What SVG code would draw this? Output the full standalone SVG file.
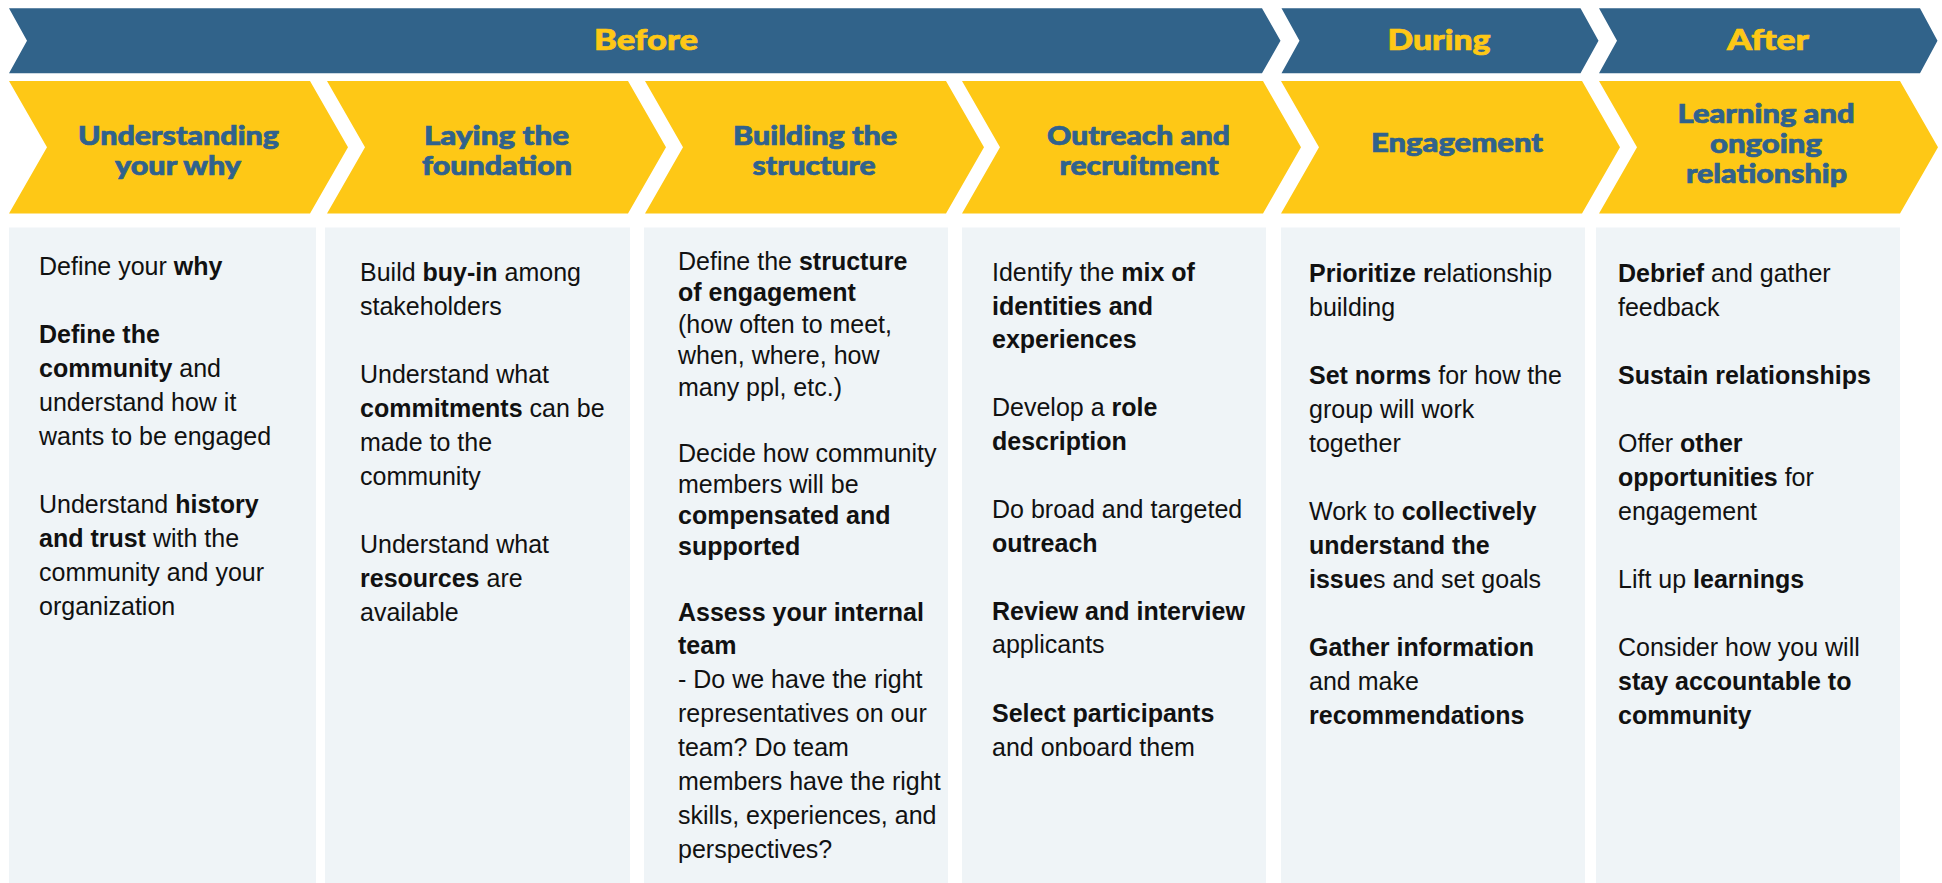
<svg xmlns="http://www.w3.org/2000/svg" width="1942" height="883" viewBox="0 0 1942 883">
<style>
.band{fill:#31638A}
.chev{fill:#FEC816}
.panel{fill:#EFF4F7}
.bt{font-family:Lato,"Open Sans",sans-serif;font-weight:900;font-size:29px;fill:#FEC816;stroke:#FEC816;stroke-width:0.7;text-anchor:middle}
.ht{font-family:Lato,"Open Sans",sans-serif;font-weight:900;font-size:26px;fill:#30628D;stroke:#30628D;stroke-width:0.7;text-anchor:middle}
.tx{font-family:"Liberation Sans",Arial,sans-serif;font-size:25px;fill:#111}
.b{font-weight:bold}
</style>
<rect width="1942" height="883" fill="#fff"/>
<g id="phase-before">
<path class="band" d="M9,8.3 H1262 L1280.5,40.8 L1262,73.3 H9 L27,40.8 Z"/>
<text class="bt" x="646" y="49.5" textLength="104" lengthAdjust="spacingAndGlyphs">Before</text>
</g>
<g id="phase-during">
<path class="band" d="M1281.5,8.3 H1580.5 L1598.5,40.8 L1580.5,73.3 H1281.5 L1299.5,40.8 Z"/>
<text class="bt" x="1439" y="49.5" textLength="103" lengthAdjust="spacingAndGlyphs">During</text>
</g>
<g id="phase-after">
<path class="band" d="M1599,8.3 H1920 L1937.5,40.8 L1920,73.3 H1599 L1617,40.8 Z"/>
<text class="bt" x="1768" y="49.5" textLength="82" lengthAdjust="spacingAndGlyphs">After</text>
</g>
<g id="step-1">
<path class="chev" d="M9,81 H310 L348,147.25 L310,213.5 H9 L47,147.25 Z"/>
<text class="ht" x="178.5" y="145" textLength="201" lengthAdjust="spacingAndGlyphs">Understanding</text>
<text class="ht" x="178" y="175" textLength="126" lengthAdjust="spacingAndGlyphs">your why</text>
<rect class="panel" x="9" y="227.5" width="307" height="656"/>
<text class="tx" x="39" y="275">Define your <tspan class="b">why</tspan></text>
<text class="tx" x="39" y="343"><tspan class="b">Define the</tspan></text>
<text class="tx" x="39" y="377"><tspan class="b">community</tspan> and</text>
<text class="tx" x="39" y="411">understand how it</text>
<text class="tx" x="39" y="445">wants to be engaged</text>
<text class="tx" x="39" y="513">Understand <tspan class="b">history</tspan></text>
<text class="tx" x="39" y="547"><tspan class="b">and trust</tspan> with the</text>
<text class="tx" x="39" y="581">community and your</text>
<text class="tx" x="39" y="615">organization</text>
</g>
<g id="step-2">
<path class="chev" d="M327,81 H628 L666,147.25 L628,213.5 H327 L365,147.25 Z"/>
<text class="ht" x="496.5" y="145" textLength="145" lengthAdjust="spacingAndGlyphs">Laying the</text>
<text class="ht" x="497" y="175" textLength="150" lengthAdjust="spacingAndGlyphs">foundation</text>
<rect class="panel" x="325" y="227.5" width="305" height="656"/>
<text class="tx" x="360" y="281">Build <tspan class="b">buy-in</tspan> among</text>
<text class="tx" x="360" y="315">stakeholders</text>
<text class="tx" x="360" y="383">Understand what</text>
<text class="tx" x="360" y="417"><tspan class="b">commitments</tspan> can be</text>
<text class="tx" x="360" y="451">made to the</text>
<text class="tx" x="360" y="485">community</text>
<text class="tx" x="360" y="553">Understand what</text>
<text class="tx" x="360" y="587"><tspan class="b">resources</tspan> are</text>
<text class="tx" x="360" y="621">available</text>
</g>
<g id="step-3">
<path class="chev" d="M645,81 H946 L984,147.25 L946,213.5 H645 L683,147.25 Z"/>
<text class="ht" x="815" y="145" textLength="164" lengthAdjust="spacingAndGlyphs">Building the</text>
<text class="ht" x="814" y="175" textLength="123" lengthAdjust="spacingAndGlyphs">structure</text>
<rect class="panel" x="644" y="227.5" width="304" height="656"/>
<text class="tx" x="678" y="269.5">Define the <tspan class="b">structure</tspan></text>
<text class="tx" x="678" y="300.7"><tspan class="b">of engagement</tspan></text>
<text class="tx" x="678" y="332.5">(how often to meet,</text>
<text class="tx" x="678" y="364.3">when, where, how</text>
<text class="tx" x="678" y="396">many ppl, etc.)</text>
<text class="tx" x="678" y="462">Decide how community</text>
<text class="tx" x="678" y="493">members will be</text>
<text class="tx" x="678" y="524"><tspan class="b">compensated and</tspan></text>
<text class="tx" x="678" y="555"><tspan class="b">supported</tspan></text>
<text class="tx" x="678" y="620.5"><tspan class="b">Assess your internal</tspan></text>
<text class="tx" x="678" y="653.5"><tspan class="b">team</tspan></text>
<text class="tx" x="678" y="688">- Do we have the right</text>
<text class="tx" x="678" y="721.5">representatives on our</text>
<text class="tx" x="678" y="756">team? Do team</text>
<text class="tx" x="678" y="790">members have the right</text>
<text class="tx" x="678" y="824">skills, experiences, and</text>
<text class="tx" x="678" y="857.5">perspectives?</text>
</g>
<g id="step-4">
<path class="chev" d="M962,81 H1263 L1301,147.25 L1263,213.5 H962 L1000,147.25 Z"/>
<text class="ht" x="1138.5" y="145" textLength="183" lengthAdjust="spacingAndGlyphs">Outreach and</text>
<text class="ht" x="1139" y="175" textLength="159" lengthAdjust="spacingAndGlyphs">recruitment</text>
<rect class="panel" x="962" y="227.5" width="304" height="656"/>
<text class="tx" x="992" y="281">Identify the <tspan class="b">mix of</tspan></text>
<text class="tx" x="992" y="314.7"><tspan class="b">identities and</tspan></text>
<text class="tx" x="992" y="348.4"><tspan class="b">experiences</tspan></text>
<text class="tx" x="992" y="416">Develop a <tspan class="b">role</tspan></text>
<text class="tx" x="992" y="449.5"><tspan class="b">description</tspan></text>
<text class="tx" x="992" y="518">Do broad and targeted</text>
<text class="tx" x="992" y="551.5"><tspan class="b">outreach</tspan></text>
<text class="tx" x="992" y="620"><tspan class="b">Review and interview</tspan></text>
<text class="tx" x="992" y="653">applicants</text>
<text class="tx" x="992" y="722"><tspan class="b">Select participants</tspan></text>
<text class="tx" x="992" y="755.5">and onboard them</text>
</g>
<g id="step-5">
<path class="chev" d="M1281,81 H1582 L1620,147.25 L1582,213.5 H1281 L1319,147.25 Z"/>
<text class="ht" x="1457" y="152" textLength="172" lengthAdjust="spacingAndGlyphs">Engagement</text>
<rect class="panel" x="1281" y="227.5" width="304" height="656"/>
<text class="tx" x="1309" y="281.5"><tspan class="b">Prioritize r</tspan>elationship</text>
<text class="tx" x="1309" y="315.5">building</text>
<text class="tx" x="1309" y="383.5"><tspan class="b">Set norms</tspan> for how the</text>
<text class="tx" x="1309" y="417.5">group will work</text>
<text class="tx" x="1309" y="451.5">together</text>
<text class="tx" x="1309" y="519.5">Work to <tspan class="b">collectively</tspan></text>
<text class="tx" x="1309" y="553.5"><tspan class="b">understand the</tspan></text>
<text class="tx" x="1309" y="587.5"><tspan class="b">issue</tspan>s and set goals</text>
<text class="tx" x="1309" y="655.5"><tspan class="b">Gather information</tspan></text>
<text class="tx" x="1309" y="689.5">and make</text>
<text class="tx" x="1309" y="723.5"><tspan class="b">recommendations</tspan></text>
</g>
<g id="step-6">
<path class="chev" d="M1599,81 H1900 L1938,147.25 L1900,213.5 H1599 L1637,147.25 Z"/>
<text class="ht" x="1766" y="123" textLength="177" lengthAdjust="spacingAndGlyphs">Learning and</text>
<text class="ht" x="1766" y="153" textLength="112" lengthAdjust="spacingAndGlyphs">ongoing</text>
<text class="ht" x="1766.5" y="183" textLength="161" lengthAdjust="spacingAndGlyphs">relationship</text>
<rect class="panel" x="1596" y="227.5" width="304" height="656"/>
<text class="tx" x="1618" y="281.5"><tspan class="b">Debrief</tspan> and gather</text>
<text class="tx" x="1618" y="315.5">feedback</text>
<text class="tx" x="1618" y="383.5"><tspan class="b">Sustain relationships</tspan></text>
<text class="tx" x="1618" y="451.5">Offer <tspan class="b">other</tspan></text>
<text class="tx" x="1618" y="485.5"><tspan class="b">opportunities</tspan> for</text>
<text class="tx" x="1618" y="519.5">engagement</text>
<text class="tx" x="1618" y="587.5">Lift up <tspan class="b">learnings</tspan></text>
<text class="tx" x="1618" y="655.5">Consider how you will</text>
<text class="tx" x="1618" y="689.5"><tspan class="b">stay accountable to</tspan></text>
<text class="tx" x="1618" y="723.5"><tspan class="b">community</tspan></text>
</g>
<g id="connectors"/>
</svg>
